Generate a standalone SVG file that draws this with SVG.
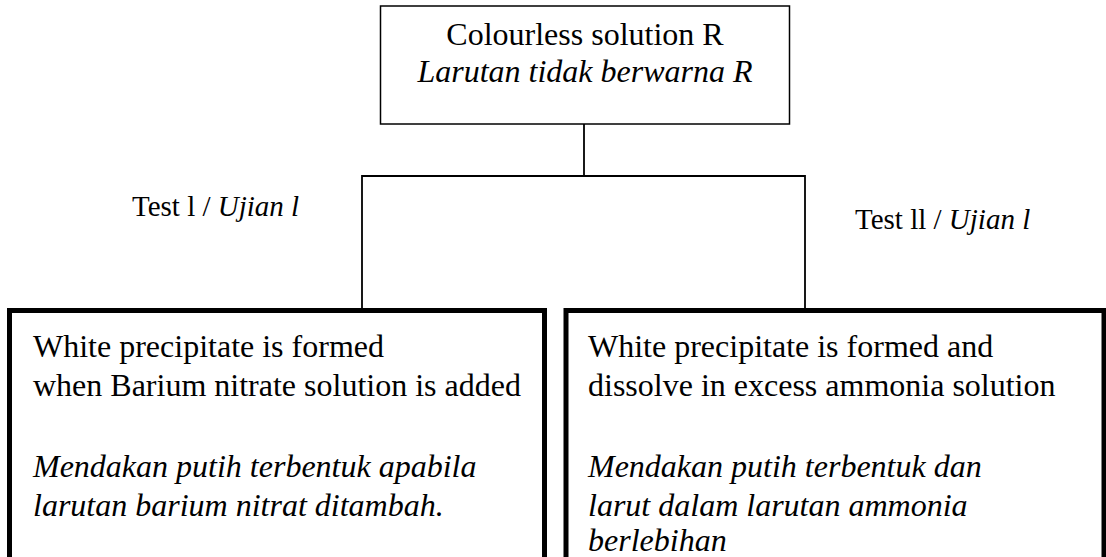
<svg xmlns="http://www.w3.org/2000/svg" width="1106" height="557" viewBox="0 0 1106 557">
<style>
text{font-family:"Liberation Serif","Times New Roman",serif;fill:#000}
.big{font-size:32px}
.lab{font-size:29px}
.it{font-style:italic}
.thin{fill:#fff;stroke:#000;stroke-width:1.5}
.thick{fill:#fff;stroke:#000;stroke-width:5}
.conn{fill:none;stroke:#000;stroke-width:1.8}
</style>
<rect width="1106" height="557" fill="#fff"/>
<g id="connectors">
<polyline class="conn" points="584,124 584,176"/>
<polyline class="conn" points="362,310 362,176 805,176 805,310"/>
</g>
<g id="node-top">
<rect class="thin" x="380.5" y="6" width="409" height="118"/>
<text class="big" x="585" y="45" text-anchor="middle">Colourless solution R</text>
<text class="big it" x="585" y="82" text-anchor="middle">Larutan tidak berwarna R</text>
</g>
<g id="label-test1">
<text class="lab" x="132" y="216">Test l / <tspan class="it">Ujian l</tspan></text>
</g>
<g id="label-test2">
<text class="lab" x="855" y="229">Test ll / <tspan class="it">Ujian l</tspan></text>
</g>
<g id="node-left">
<rect class="thick" x="9.5" y="310.5" width="535" height="300"/>
<text class="big" x="33" y="357">White precipitate is formed</text>
<text class="big" x="33" y="396">when Barium nitrate solution is added</text>
<text class="big it" x="33" y="477">Mendakan putih terbentuk apabila</text>
<text class="big it" x="33" y="516">larutan barium nitrat ditambah.</text>
</g>
<g id="node-right">
<rect class="thick" x="566" y="310.5" width="538" height="300"/>
<text class="big" x="588" y="357">White precipitate is formed and</text>
<text class="big" x="588" y="396">dissolve in excess ammonia solution</text>
<text class="big it" x="588" y="477">Mendakan putih terbentuk dan</text>
<text class="big it" x="588" y="516">larut dalam larutan ammonia</text>
<text class="big it" x="588" y="551">berlebihan</text>
</g>
</svg>
